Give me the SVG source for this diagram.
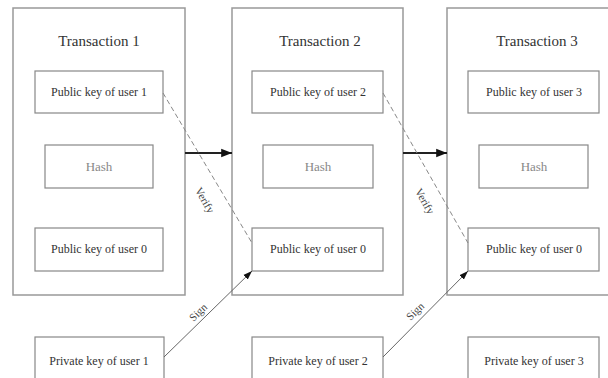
<svg xmlns="http://www.w3.org/2000/svg" width="608" height="378" viewBox="0 0 608 378">
<defs>
<style>
.outer{fill:#fff;stroke:#999;stroke-width:1.5}
.inner{fill:#fff;stroke:#888;stroke-width:1.2}
.title{font-family:"Liberation Serif","Times New Roman",serif;font-size:15px;fill:#333;text-anchor:middle}
.t{font-family:"Liberation Serif","Times New Roman",serif;font-size:12px;fill:#333;text-anchor:middle}
.hash{font-family:"Liberation Serif","Times New Roman",serif;font-size:13px;fill:#888;text-anchor:middle}
.lbl{font-family:"Liberation Serif","Times New Roman",serif;font-size:11px;fill:#444;text-anchor:middle;dominant-baseline:central}
.flow{stroke:#222;stroke-width:1.8;fill:none}
.verify{stroke:#888;stroke-width:1;stroke-dasharray:5 3;fill:none}
.sign{stroke:#666;stroke-width:1;fill:none}
</style>
<marker id="ah" viewBox="0 0 10 10" refX="10" refY="5" markerWidth="6" markerHeight="6" markerUnits="strokeWidth" orient="auto"><path d="M0,1 L10,5 L0,9 z" fill="#111"/></marker>
<marker id="ah2" viewBox="0 0 10 10" refX="10" refY="5" markerWidth="9" markerHeight="9" markerUnits="strokeWidth" orient="auto"><path d="M0,1.5 L10,5 L0,8.5 z" fill="#111"/></marker>
</defs>
<g id="tx1">
<rect class="outer" x="13" y="8" width="172" height="287"/>
<text class="title" x="99" y="46">Transaction 1</text>
</g>
<g id="tx2">
<rect class="outer" x="232" y="8" width="171" height="287"/>
<text class="title" x="320" y="46">Transaction 2</text>
</g>
<g id="tx3">
<rect class="outer" x="447" y="8" width="170" height="287"/>
<text class="title" x="537" y="46">Transaction 3</text>
</g>
<g id="pk1">
<rect class="inner" x="35" y="71" width="128" height="42"/>
<text class="t" x="99" y="96">Public key of user 1</text>
</g>
<g id="hash1">
<rect class="inner" x="45" y="145" width="108" height="43"/>
<text class="hash" x="99" y="171">Hash</text>
</g>
<g id="pk0a">
<rect class="inner" x="35" y="228" width="128" height="43"/>
<text class="t" x="99" y="253">Public key of user 0</text>
</g>
<g id="priv1">
<rect class="inner" x="35" y="337" width="129" height="50"/>
<text class="t" x="99" y="365">Private key of user 1</text>
</g>
<g id="pk2">
<rect class="inner" x="252" y="71" width="131" height="42"/>
<text class="t" x="318" y="96">Public key of user 2</text>
</g>
<g id="hash2">
<rect class="inner" x="263" y="145" width="110" height="43"/>
<text class="hash" x="318" y="171">Hash</text>
</g>
<g id="pk0b">
<rect class="inner" x="252" y="228" width="131" height="43"/>
<text class="t" x="318" y="253">Public key of user 0</text>
</g>
<g id="priv2">
<rect class="inner" x="252" y="337" width="131" height="50"/>
<text class="t" x="318" y="365">Private key of user 2</text>
</g>
<g id="pk3">
<rect class="inner" x="468" y="71" width="131" height="42"/>
<text class="t" x="534" y="96">Public key of user 3</text>
</g>
<g id="hash3">
<rect class="inner" x="479" y="145" width="109" height="43"/>
<text class="hash" x="534" y="171">Hash</text>
</g>
<g id="pk0c">
<rect class="inner" x="468" y="228" width="131" height="43"/>
<text class="t" x="534" y="253">Public key of user 0</text>
</g>
<g id="priv3">
<rect class="inner" x="468" y="337" width="131" height="50"/>
<text class="t" x="534" y="365">Private key of user 3</text>
</g>
<g id="connectors">
<line class="flow" x1="185" y1="153" x2="232" y2="153" marker-end="url(#ah)"/>
<line class="flow" x1="403" y1="153" x2="447" y2="153" marker-end="url(#ah)"/>
<line class="verify" x1="163" y1="93" x2="252" y2="243"/>
<line class="verify" x1="383" y1="93" x2="468" y2="243"/>
<line class="sign" x1="164" y1="357" x2="252" y2="271" marker-end="url(#ah2)"/>
<line class="sign" x1="383" y1="357" x2="468" y2="271" marker-end="url(#ah2)"/>
<text class="lbl" transform="translate(205 200) rotate(60)">Verify</text>
<text class="lbl" transform="translate(425 201) rotate(60)">Verify</text>
<text class="lbl" transform="translate(198 312) rotate(-44)">Sign</text>
<text class="lbl" transform="translate(415 311) rotate(-44)">Sign</text>
</g>
</svg>
